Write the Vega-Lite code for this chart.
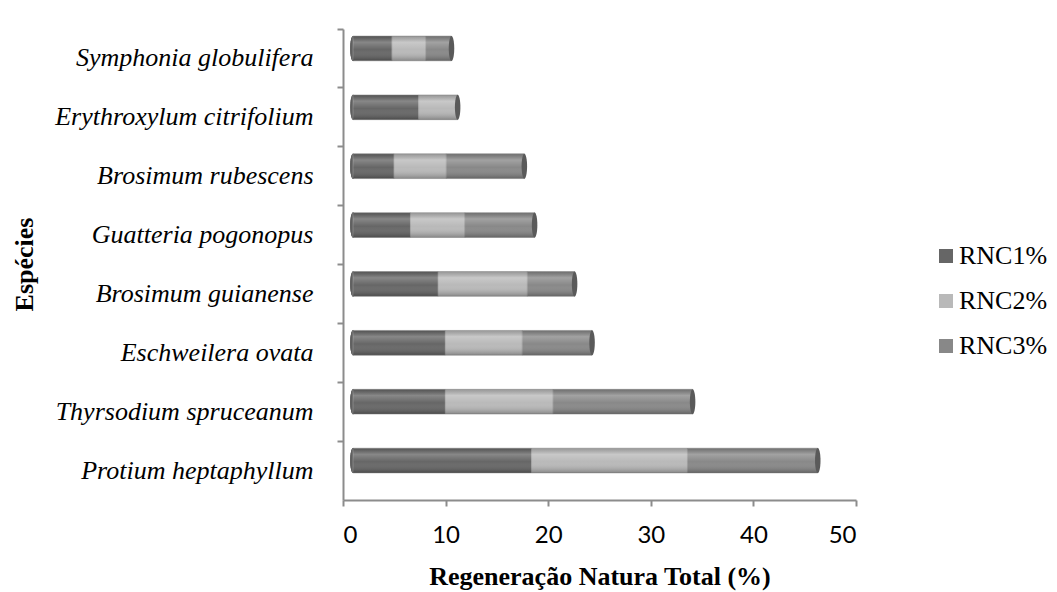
{
  "$schema": "https://vega.github.io/schema/vega-lite/v6.json",
  "autosize": {"type": "none"},
  "width": 513,
  "height": 471,
  "padding": {"left": 343, "top": 29, "right": 201, "bottom": 92},
  "background": "white",
  "config": {
    "view": {"stroke": null},
    "font": "Liberation Serif"
  },
  "data": {
    "values": [
      {"especie": "Symphonia globulifera", "serie": "RNC1%", "valor": 3.8},
      {"especie": "Symphonia globulifera", "serie": "RNC2%", "valor": 3.3},
      {"especie": "Symphonia globulifera", "serie": "RNC3%", "valor": 2.5},
      {"especie": "Erythroxylum citrifolium", "serie": "RNC1%", "valor": 6.4},
      {"especie": "Erythroxylum citrifolium", "serie": "RNC2%", "valor": 3.8},
      {"especie": "Brosimum rubescens", "serie": "RNC1%", "valor": 4.0},
      {"especie": "Brosimum rubescens", "serie": "RNC2%", "valor": 5.1},
      {"especie": "Brosimum rubescens", "serie": "RNC3%", "valor": 7.6},
      {"especie": "Guatteria pogonopus", "serie": "RNC1%", "valor": 5.6},
      {"especie": "Guatteria pogonopus", "serie": "RNC2%", "valor": 5.3},
      {"especie": "Guatteria pogonopus", "serie": "RNC3%", "valor": 6.8},
      {"especie": "Brosimum guianense", "serie": "RNC1%", "valor": 8.3},
      {"especie": "Brosimum guianense", "serie": "RNC2%", "valor": 8.7},
      {"especie": "Brosimum guianense", "serie": "RNC3%", "valor": 4.6},
      {"especie": "Eschweilera ovata", "serie": "RNC1%", "valor": 9.0},
      {"especie": "Eschweilera ovata", "serie": "RNC2%", "valor": 7.5},
      {"especie": "Eschweilera ovata", "serie": "RNC3%", "valor": 6.8},
      {"especie": "Thyrsodium spruceanum", "serie": "RNC1%", "valor": 9.0},
      {"especie": "Thyrsodium spruceanum", "serie": "RNC2%", "valor": 10.5},
      {"especie": "Thyrsodium spruceanum", "serie": "RNC3%", "valor": 13.6},
      {"especie": "Protium heptaphyllum", "serie": "RNC1%", "valor": 17.4},
      {"especie": "Protium heptaphyllum", "serie": "RNC2%", "valor": 15.2},
      {"especie": "Protium heptaphyllum", "serie": "RNC3%", "valor": 12.7}
    ]
  },
  "encoding": {
    "y": {
      "field": "especie",
      "type": "nominal",
      "sort": [
        "Symphonia globulifera",
        "Erythroxylum citrifolium",
        "Brosimum rubescens",
        "Guatteria pogonopus",
        "Brosimum guianense",
        "Eschweilera ovata",
        "Thyrsodium spruceanum",
        "Protium heptaphyllum"
      ],
      "scale": {"paddingInner": 0, "paddingOuter": 0},
      "axis": {
        "title": "Espécies",
        "titleFont": "Liberation Serif",
        "titleFontSize": 26,
        "titleFontWeight": "bold",
        "titleColor": "black",
        "titleAngle": -90,
        "titleX": -319,
        "titleY": 235,
        "titleAlign": "center",
        "titleBaseline": "middle",
        "labelFont": "Liberation Serif",
        "labelFontStyle": "italic",
        "labelFontSize": 26,
        "labelColor": "black",
        "labelPadding": 24,
        "labelLimit": 400,
        "bandPosition": 0,
        "domainColor": "#8c8c8c",
        "domainWidth": 2,
        "tickColor": "#8c8c8c",
        "tickWidth": 2,
        "tickSize": 6,
        "grid": false
      }
    }
  },
  "layer": [
    {
      "mark": {
        "type": "point",
        "filled": true,
        "shape": "M0,-1 A0.22,1 0 0,1 0,1 A0.22,1 0 0,1 0,-1 Z",
        "size": 625,
        "opacity": 1,
        "color": "#606060",
        "xOffset": 10,
        "yOffset": -10
      },
      "encoding": {
        "x": {"datum": 0, "type": "quantitative"}
      }
    },
    {
      "mark": {"type": "bar", "height": {"band": 0.42}, "xOffset": 10, "x2Offset": 10, "yOffset": -10, "stroke": "#9a9a9a", "strokeWidth": 0.6},
      "encoding": {
        "x": {
          "field": "valor",
          "type": "quantitative",
          "stack": "zero",
          "scale": {"domain": [0, 50], "nice": false},
          "axis": {
            "title": "Regeneração Natura Total (%)",
            "titleFont": "Liberation Serif",
            "titleFontSize": 26,
            "titleFontWeight": "bold",
            "titleColor": "black",
            "titlePadding": 16,
            "values": [0, 10, 20, 30, 40, 50],
            "labelFont": "Lato",
            "labelFontSize": 24,
            "labelColor": "black",
            "labelPadding": 17,
            "domainColor": "#8c8c8c",
            "domainWidth": 2,
            "tickColor": "#8c8c8c",
            "tickWidth": 2,
            "tickSize": 6,
            "grid": false
          }
        },
        "color": {
          "field": "serie",
          "type": "nominal",
          "scale": {"domain": ["RNC1%", "RNC2%", "RNC3%"], "range": ["#666666", "#b9b9b9", "#888888"]},
          "legend": {
            "title": null,
            "orient": "none",
            "legendX": 590,
            "legendY": 214,
            "padding": 0,
            "symbolType": "square",
            "symbolSize": 196,
            "symbolStrokeWidth": 0,
            "labelFont": "Liberation Serif",
            "labelFontSize": 26,
            "labelColor": "black",
            "labelOffset": 0,
            "rowPadding": 19
          }
        },
        "order": {"field": "serie", "type": "nominal"}
      }
    },
    {
      "mark": {
        "type": "bar",
        "height": {"band": 0.42},
        "xOffset": 10,
        "x2Offset": 10,
        "yOffset": -10,
        "fill": {
          "gradient": "linear",
          "x1": 0, "y1": 0, "x2": 0, "y2": 1,
          "stops": [
            {"offset": 0, "color": "rgba(0,0,0,0.18)"},
            {"offset": 0.25, "color": "rgba(255,255,255,0.22)"},
            {"offset": 0.55, "color": "rgba(255,255,255,0.0)"},
            {"offset": 1, "color": "rgba(0,0,0,0.28)"}
          ]
        }
      },
      "encoding": {
        "x": {"aggregate": "sum", "field": "valor", "type": "quantitative"},
        "x2": {"datum": 0}
      }
    },
    {
      "mark": {
        "type": "point",
        "filled": true,
        "shape": "M0,-1 A0.22,1 0 0,1 0,1 A0.22,1 0 0,1 0,-1 Z",
        "size": 625,
        "opacity": 1,
        "color": "#5a5a5a",
        "xOffset": 10,
        "yOffset": -10
      },
      "encoding": {
        "x": {"aggregate": "sum", "field": "valor", "type": "quantitative"}
      }
    }
  ]
}
